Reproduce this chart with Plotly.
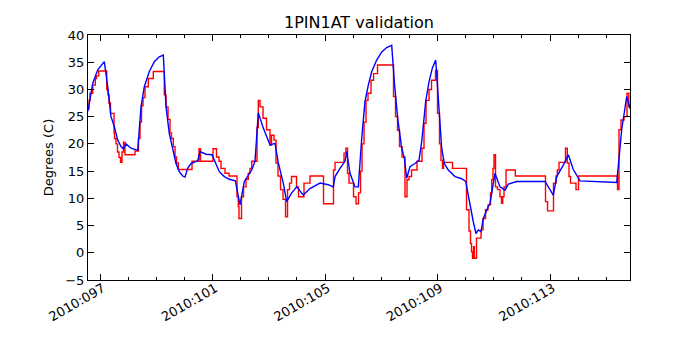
import plotly.graph_objects as go

# Day-of-year values (2010)
red_day = [96.573, 96.609, 96.644, 96.740, 96.833, 96.876, 96.954, 97.238, 97.284, 97.320,
           97.373, 97.498, 97.516, 97.569, 97.622, 97.676, 97.729, 97.782, 97.836, 97.889,
           98.244, 98.369, 98.422, 98.476, 98.529, 98.600, 98.717, 98.895, 99.286, 99.347,
           99.418, 99.489, 99.542, 99.606, 99.667, 99.720, 99.784, 100.271, 100.520, 100.573,
           101.018, 101.142, 101.231, 101.302, 101.444, 101.587, 101.871, 101.917, 101.942, 102.031,
           102.102, 102.191, 102.273, 102.333, 102.394, 102.582, 102.628, 102.689, 102.796, 102.920,
           103.044, 103.098, 103.187, 103.258, 103.329, 103.418, 103.507, 103.596, 103.667, 103.738,
           103.809, 103.987, 104.058, 104.253, 104.467, 104.947, 105.302, 105.356, 105.676, 105.740,
           105.800, 105.853, 106.013, 106.102, 106.191, 106.262, 106.316, 106.387, 106.458, 106.529,
           106.636, 106.724, 106.867, 107.436, 107.507, 107.578, 107.649, 107.738, 107.844, 107.916,
           107.987, 108.076, 108.271, 108.449, 108.520, 108.591, 108.698, 108.787, 108.929, 109.000,
           109.071, 109.124, 109.178, 109.213, 109.533, 110.031, 110.120, 110.173, 110.209, 110.244,
           110.280, 110.308, 110.387, 110.547, 110.618, 110.707, 110.796, 110.884, 110.927, 110.973,
           111.009, 111.062, 111.133, 111.222, 111.276, 111.318, 111.364, 111.436, 111.767, 112.840,
           112.911, 113.124, 113.213, 113.260, 113.320, 113.551, 113.615, 113.676, 113.729, 113.924,
           114.013, 115.400, 115.453, 115.524, 115.631, 115.738, 115.802, 115.844]
red_temp = [26.5, 28.0, 29.3, 30.8, 32.0, 32.5, 33.4, 30.0, 29.0, 27.5,
            25.6, 22.0, 21.0, 20.0, 18.5, 17.5, 16.6, 18.5, 20.3, 18.0,
            18.7, 21.0, 24.0, 27.0, 28.5, 30.5, 32.0, 33.3, 29.0, 26.8,
            24.5, 22.0, 21.0, 19.5, 17.6, 16.5, 15.3, 16.8, 19.1, 16.8,
            19.1, 17.6, 16.8, 15.5, 14.6, 14.1, 10.3, 8.5, 6.3, 10.3,
            12.1, 13.5, 14.6, 15.5, 16.8, 23.0, 28.0, 26.8, 24.7, 22.6,
            19.8, 21.6, 20.7, 16.5, 14.1, 11.6, 9.8, 6.6, 11.6, 12.8,
            14.0, 12.1, 10.3, 12.8, 14.1, 9.0, 15.2, 16.6, 18.3, 19.2,
            14.6, 12.8, 10.3, 9.0, 11.0, 15.0, 20.0, 24.0, 28.0, 29.3,
            31.7, 32.9, 34.5, 28.7, 25.0, 22.5, 19.5, 17.6, 10.3, 13.4,
            14.0, 15.2, 16.8, 19.2, 23.8, 28.0, 30.0, 31.7, 33.5, 25.6,
            20.0, 17.0, 15.5, 16.6, 15.5, 7.9, 4.0, 1.7, 0.2, -1.0,
            1.1, -1.0, 2.7, 4.2, 6.3, 7.9, 8.8, 11.0, 13.4, 15.5,
            18.0, 12.1, 11.6, 10.3, 9.1, 10.3, 12.1, 15.2, 14.1, 9.4,
            7.7, 12.8, 14.1, 15.2, 16.6, 19.2, 16.5, 14.0, 12.8, 11.6,
            14.1, 11.6, 22.6, 24.4, 25.0, 29.3, 26.8, 26.8]

blue_day = [96.573, 96.740, 96.918, 97.153, 97.274, 97.391, 97.508, 97.629, 97.747, 97.828,
            97.924, 98.102, 98.340, 98.397, 98.458, 98.575, 98.753, 98.931, 99.108, 99.251,
            99.347, 99.464, 99.585, 99.702, 99.820, 99.940, 100.022, 100.116, 100.236, 100.474,
            100.556, 100.769, 100.982, 101.124, 101.242, 101.420, 101.597, 101.811, 101.978, 102.131,
            102.394, 102.511, 102.628, 102.806, 103.044, 103.222, 103.340, 103.517, 103.638, 103.816,
            103.994, 104.228, 104.467, 104.822, 105.117, 105.295, 105.356, 105.533, 105.711, 105.772,
            105.889, 106.067, 106.184, 106.305, 106.422, 106.540, 106.661, 106.838, 107.016, 107.194,
            107.372, 107.464, 107.585, 107.727, 107.820, 107.905, 108.022, 108.200, 108.342, 108.438,
            108.580, 108.698, 108.815, 108.936, 109.028, 109.149, 109.242, 109.384, 109.622, 109.860,
            110.002, 110.156, 110.272, 110.369, 110.452, 110.547, 110.628, 110.806, 110.867, 111.044,
            111.222, 111.400, 111.518, 111.816, 112.822, 113.117, 113.238, 113.473, 113.651, 113.828,
            114.067, 115.372, 115.549, 115.727, 115.844]
blue_temp = [26.0, 31.1, 33.6, 35.1, 30.5, 25.0, 23.2, 20.7, 19.5, 19.1,
             20.0, 19.2, 18.8, 22.6, 26.8, 30.5, 33.3, 35.1, 36.0, 36.3,
             26.8, 21.9, 18.9, 16.4, 14.9, 14.1, 13.9, 15.5, 16.4, 16.9,
             18.6, 18.1, 18.0, 16.1, 14.9, 14.0, 13.5, 13.2, 8.8, 13.1,
             15.2, 16.8, 25.7, 22.9, 19.8, 20.1, 16.5, 12.8, 9.4, 11.0,
             12.1, 10.6, 11.8, 12.8, 12.5, 12.1, 14.0, 15.5, 16.8, 18.6,
             14.6, 12.1, 12.1, 21.0, 27.8, 30.8, 33.3, 35.4, 36.9, 37.7,
             38.1, 31.4, 24.7, 19.2, 17.4, 13.7, 15.8, 16.4, 17.0, 20.4,
             27.8, 31.4, 33.9, 35.4, 27.8, 19.2, 16.4, 15.2, 14.0, 13.6,
             13.1, 8.5, 5.7, 3.5, 4.2, 3.9, 6.3, 8.5, 9.1, 14.6,
             12.1, 11.5, 12.6, 13.1, 13.1, 10.6, 14.0, 16.1, 18.0, 15.3,
             13.2, 12.9, 22.6, 28.7, 26.5]

x_tick_vals = [97, 101, 105, 109, 113]
x_tick_text = ["2010:097", "2010:101", "2010:105", "2010:109", "2010:113"]
y_tick_vals = [-5, 0, 5, 10, 15, 20, 25, 30, 35, 40]

fig = go.Figure()
fig.add_trace(go.Scatter(x=red_day, y=red_temp, mode="lines", line_shape="hv",
                         line=dict(color="#ff0000", width=1.4), showlegend=False))
fig.add_trace(go.Scatter(x=blue_day, y=blue_temp, mode="lines",
                         line=dict(color="#0000ff", width=1.4), showlegend=False))

fig.update_layout(
    width=700, height=350,
    margin=dict(l=80, r=78, t=27, b=78, autoexpand=False),
    paper_bgcolor="white", plot_bgcolor="white",
    font=dict(family="DejaVu Sans", size=13, color="black"),
    title=dict(text="1PIN1AT validation", x=0.5014, xref="container", xanchor="center",
               y=0.96, yref="container", yanchor="middle", automargin=False,
               font=dict(family="DejaVu Sans", size=16, color="black")),
)
fig.update_xaxes(
    range=[96.573, 115.844], showgrid=False, zeroline=False, automargin=False,
    showline=True, linecolor="black", linewidth=1, mirror="ticks",
    ticks="inside", ticklen=6, tickcolor="black",
    tickvals=x_tick_vals, ticktext=x_tick_text, tickangle=-30,
    ticklabelstandoff=-5, ticklabelshift=3,
    minor=dict(dtick=1, tick0=97, ticks="inside", ticklen=3, tickcolor="black"),
)
fig.update_yaxes(
    range=[-5, 40], showgrid=False, zeroline=False, automargin=False,
    showline=True, linecolor="black", linewidth=1, mirror="ticks",
    ticks="inside", ticklen=6, tickcolor="black",
    tickvals=y_tick_vals, ticktext=[str(v).replace("-", "\u2212") for v in y_tick_vals],
    title=dict(text="Degrees (C)", standoff=8, font=dict(size=13)),
)

fig.write_html("out.html")
